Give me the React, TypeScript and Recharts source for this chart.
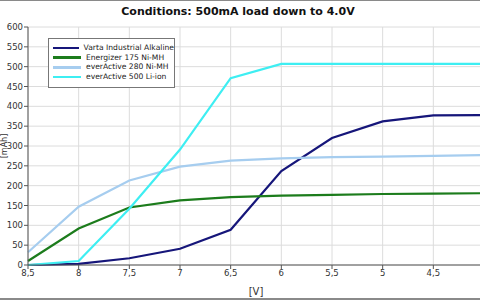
import { LineChart, Line, XAxis, YAxis, CartesianGrid } from "recharts";

// voltage steps, from 8.5V down to the 4.0V cutoff
const VOLTS = [8.5, 8, 7.5, 7, 6.5, 6, 5.5, 5, 4.5, 4];

// capacity delivered [mAh] at each voltage step
const VARTA = [0, 3, 17, 41, 89, 237, 320, 362, 377, 378];
const ENERGIZER = [10, 92, 145, 163, 171, 175, 177, 179, 180, 181];
const EVERACTIVE_280 = [32, 147, 213, 248, 263, 269, 272, 273, 275, 277];
const EVERACTIVE_500 = [0, 10, 142, 291, 471, 507, 507, 507, 507, 507];

const X_TICKS = [8.5, 8, 7.5, 7, 6.5, 6, 5.5, 5, 4.5];
const Y_TICKS = [0, 50, 100, 150, 200, 250, 300, 350, 400, 450, 500, 550, 600];

const SERIES = [
  { key: "varta", name: "Varta Industrial Alkaline", color: "#16167a" },
  { key: "energizer", name: "Energizer 175 Ni-MH", color: "#1c7c1c" },
  { key: "ea280", name: "everActive 280 Ni-MH", color: "#a6cdef" },
  { key: "ea500", name: "everActive 500 Li-ion", color: "#3eeef2" },
];

const data = VOLTS.map((v, i) => ({
  v,
  varta: VARTA[i],
  energizer: ENERGIZER[i],
  ea280: EVERACTIVE_280[i],
  ea500: EVERACTIVE_500[i],
}));

const FONT = "'DejaVu Sans', sans-serif";
const TICK = { fontSize: 8.5, fill: "#333", fontFamily: FONT };

function LegendBox() {
  return (
    <div
      style={{
        position: "absolute",
        left: 48,
        top: 37,
        width: 127,
        height: 50,
        boxSizing: "border-box",
        background: "#fff",
        border: "1px solid #777",
        padding: "4px 0 0 4px",
        fontFamily: FONT,
        fontSize: 7.6,
        color: "#222",
        lineHeight: "9.7px",
        whiteSpace: "nowrap",
      }}
    >
      {SERIES.map((s) => (
        <div key={s.key} style={{ display: "flex", alignItems: "center" }}>
          <span
            style={{
              display: "inline-block",
              width: 28,
              height: 2.5,
              background: s.color,
              marginRight: 5,
            }}
          />
          {s.name}
        </div>
      ))}
    </div>
  );
}

export default function App() {
  return (
    <div
      style={{
        position: "absolute",
        left: 0,
        top: 0,
        width: 480,
        height: 300,
        overflow: "hidden",
        background: "#fff",
        boxSizing: "border-box",
        borderTop: "1px solid #8a8a8a",
        borderBottom: "2px solid #8a8a8a",
      }}
    >
      <div
        style={{
          position: "absolute",
          top: 4,
          left: 0,
          width: 476,
          textAlign: "center",
          fontFamily: FONT,
          fontWeight: "bold",
          fontSize: 11,
          color: "#111",
        }}
      >
        Conditions: 500mA load down to 4.0V
      </div>
      <div style={{ position: "absolute", left: 0, top: -1 }}>
        <LineChart
          width={490}
          height={300}
          data={data}
          margin={{ top: 27, right: 6, left: 0, bottom: 0 }}
        >
          <CartesianGrid stroke="#dcdcdc" />
          <XAxis
            dataKey="v"
            type="number"
            domain={[4, 8.5]}
            reversed
            ticks={X_TICKS}
            interval={0}
            height={35}
            tickFormatter={(t: number) => String(t).replace(".", ",")}
            tick={TICK}
            stroke="#555"
            tickSize={4}
            tickMargin={1}
            label={{
              value: "[V]",
              position: "insideBottom",
              offset: 5,
              style: { fontSize: 10, fill: "#333", fontFamily: FONT },
            }}
          />
          <YAxis
            domain={[0, 600]}
            ticks={Y_TICKS}
            interval={0}
            width={28}
            tick={TICK}
            stroke="#555"
            tickSize={4}
            tickMargin={1}
            label={{
              value: "[mAh]",
              angle: -90,
              position: "insideLeft",
              offset: 4,
              style: { fontSize: 8, fill: "#333", fontFamily: FONT, textAnchor: "middle" },
            }}
          />
          {SERIES.map((s) => (
            <Line
              key={s.key}
              dataKey={s.key}
              name={s.name}
              stroke={s.color}
              strokeWidth={2.2}
              dot={false}
              type="linear"
              isAnimationActive={false}
            />
          ))}
        </LineChart>
      </div>
      <LegendBox />
    </div>
  );
}
